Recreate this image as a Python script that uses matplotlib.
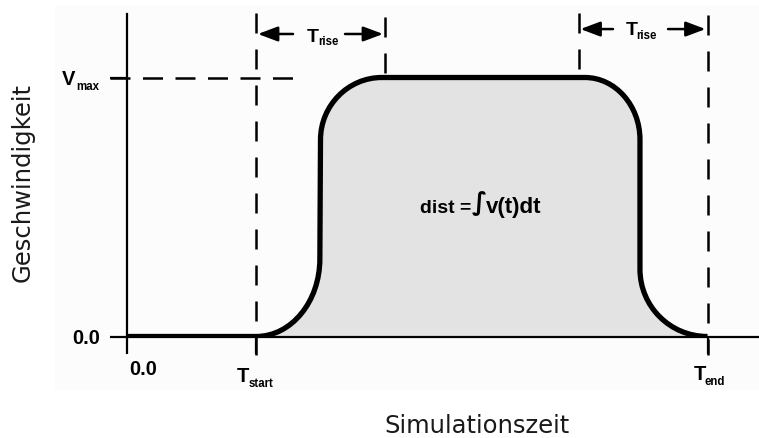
import matplotlib
matplotlib.use("Agg")
import matplotlib.pyplot as plt
from matplotlib.patches import Rectangle, PathPatch
from matplotlib.path import Path

# ---- data (x in time units, y relative to Vmax) ----
t_start = 2.0
t_rise = 2.0
t_end = 9.0
v_max = 1.0

# velocity profile: anchor points and Bezier handles
time = [0.0, 2.0,
        2.55, 2.99, 2.99,
        3.0,
        3.0, 3.43, 3.95,
        7.1,
        7.57, 7.953, 7.953,
        7.953,
        7.953, 8.42, 9.0]
velocity = [0.0, 0.0,
            0.0, 0.135, 0.30,
            0.76,
            0.892, 1.0, 1.0,
            1.0,
            1.0, 0.892, 0.76,
            0.26,
            0.116, 0.0, 0.0]
segment = ["move", "line",
           "curve", "curve", "curve",
           "line",
           "curve", "curve", "curve",
           "line",
           "curve", "curve", "curve",
           "line",
           "curve", "curve", "curve"]

x_ticks = [0.0, t_start, t_end]
x_tick_main = ["0.0", "T", "T"]
x_tick_sub = ["", "start", "end"]
y_ticks = [0.0, v_max]
y_tick_main = ["0.0", "V"]
y_tick_sub = ["", "max"]
rise_main = "T"
rise_sub = "rise"
dist_parts = ["dist =", "\u222b", "v(t)dt"]
x_label = "Simulationszeit"
y_label = "Geschwindigkeit"

# ---- figure ----
W, H = 759, 438
fig = plt.figure(figsize=(W / 100, H / 100), dpi=100)
fig.patch.set_facecolor("white")
fig.add_artist(Rectangle((55 / W, 1 - 390 / H), 1 - 55 / W, 385 / H,
                         transform=fig.transFigure, facecolor="#fcfcfc",
                         edgecolor="none", zorder=-10))

ax = fig.add_axes([127 / W, 1 - 336.5 / H, 632 / W, 322.5 / H])
ax.set_facecolor("none")
ax.set_xlim(0, 632 / 64.5)
ax.set_ylim(0, 322.5 / 259)

for s in ["top", "right"]:
    ax.spines[s].set_visible(False)
for s in ["left", "bottom"]:
    ax.spines[s].set_linewidth(1.6)
    ax.spines[s].set_color("black")

ax.set_xticks(x_ticks)
ax.set_xticklabels([""] * len(x_ticks))
ax.set_yticks(y_ticks)
ax.set_yticklabels([""] * len(y_ticks))
ax.tick_params(direction="out", length=12, width=1.6, color="black")

bold = dict(family=["Liberation Sans", "DejaVu Sans"], weight="bold", color="black")

# area + curve
code_map = {"move": Path.MOVETO, "line": Path.LINETO, "curve": Path.CURVE4}
verts = list(zip(time, velocity))
codes = [code_map[c] for c in segment]
curve_path = Path(verts, codes)
fill_path = Path(verts + [(time[0], velocity[0])], codes + [Path.CLOSEPOLY])
ax.add_patch(PathPatch(fill_path, facecolor="#e3e3e3", edgecolor="none", zorder=1))
ax.add_patch(PathPatch(curve_path, facecolor="none", edgecolor="black", lw=3.8,
                       joinstyle="round", capstyle="butt", zorder=4))

# dashed guide lines (drawn from the top so the dash pattern starts there)
dash_v = (0, (8.0, 6.4))
ytop = 322.5 / 259
ax.plot([t_start, t_start], [ytop + 0.004, -0.07], color="black", lw=1.8,
        linestyle=dash_v, clip_on=False, zorder=3)
ax.plot([t_end, t_end], [ytop - 0.004, -0.07], color="black", lw=1.8,
        linestyle=dash_v, clip_on=False, zorder=3)
ax.plot([t_start + t_rise, t_start + t_rise], [1.232, v_max], color="black",
        lw=1.8, linestyle=dash_v, clip_on=False, zorder=3)
ax.plot([t_end - t_rise, t_end - t_rise], [1.250, v_max], color="black",
        lw=1.8, linestyle=dash_v, clip_on=False, zorder=3)
ax.plot([-0.264, 2.65], [v_max, v_max], color="black", lw=1.8,
        linestyle=(0, (8.0, 5.0)), clip_on=False, zorder=3)

# rise arrows
aprops = dict(arrowstyle="-|>,head_length=1.2,head_width=0.45", lw=1.8,
              color="black", shrinkA=0, shrinkB=0, mutation_scale=10)
arrow_sets = [
    (1.168, 2.574, t_start, 3.38, t_start + t_rise, 2.791, 1.137, 2.961, 1.124),
    (1.187, 7.535, t_end - t_rise, 8.388, t_end, 7.736, 1.164, 7.891, 1.149),
]
for ya, xl0, xl1, xr0, xr1, xt, yt, xs, ys in arrow_sets:
    ax.annotate("", xy=(xl1 + 0.03, ya), xytext=(xl0, ya), arrowprops=aprops,
                annotation_clip=False)
    ax.annotate("", xy=(xr1 - 0.03, ya), xytext=(xr0, ya), arrowprops=aprops,
                annotation_clip=False)
    ax.text(xt, yt, rise_main, fontsize=14, ha="left", va="baseline", **bold)
    ax.text(xs, ys, rise_sub, fontsize=8.3, ha="left", va="baseline", **bold)

# x tick labels (main letter + subscript)
x_offsets = [((1.4, -27.7), None), ((-13.7, -32.8), (-5.0, -36.4)),
             ((-10.1, -31.3), (-2.2, -34.9))]
for xv, m, sb, (mo, so) in zip(x_ticks, x_tick_main, x_tick_sub, x_offsets):
    ax.annotate(m, xy=(xv, 0), xytext=mo, textcoords="offset points",
                fontsize=14.5, ha="left", va="baseline", annotation_clip=False, **bold)
    if sb:
        ax.annotate(sb, xy=(xv, 0), xytext=so, textcoords="offset points",
                    fontsize=8.3, ha="left", va="baseline", annotation_clip=False, **bold)

# y tick labels
ax.annotate(y_tick_main[0], xy=(0, y_ticks[0]), xytext=(-19.4, -5.4),
            textcoords="offset points", fontsize=14.5, ha="right", va="baseline",
            annotation_clip=False, **bold)
ax.annotate(y_tick_main[1], xy=(0, y_ticks[1]), xytext=(-46.8, -5.4),
            textcoords="offset points", fontsize=14.5, ha="left", va="baseline",
            annotation_clip=False, **bold)
ax.annotate(y_tick_sub[1], xy=(0, y_ticks[1]), xytext=(-36.5, -9.0),
            textcoords="offset points", fontsize=8.3, ha="left", va="baseline",
            annotation_clip=False, **bold)

# integral text
ax.text(4.543, 0.477, dist_parts[0], fontsize=14, ha="left", va="baseline",
        zorder=5, **bold)
ax.text(5.457, 0.49, dist_parts[1], fontsize=18, ha="center", va="baseline",
        zorder=5, family="DejaVu Sans", weight="bold", color="black")
ax.text(5.566, 0.477, dist_parts[2], fontsize=16, ha="left", va="baseline",
        zorder=5, **bold)

# axis labels
ax.set_xlabel(x_label, fontsize=17.5, family="DejaVu Sans", color="#1a1a1a",
              va="baseline", ha="center")
ax.xaxis.set_label_coords((477 - 127) / 632, (336.5 - 433) / 322.5)
ax.set_ylabel(y_label, fontsize=17.5, family="DejaVu Sans", color="#1a1a1a",
              va="center", ha="center")
ax.yaxis.set_label_coords((23 - 127) / 632, (336.5 - 183) / 322.5)

fig.savefig("out.png", dpi=100)
